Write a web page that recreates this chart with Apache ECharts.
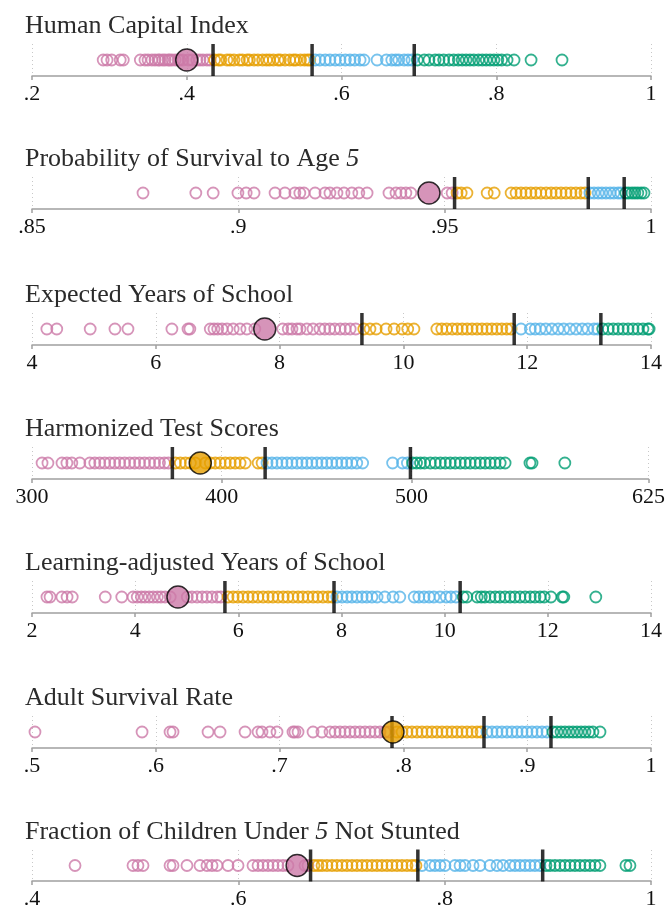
<!DOCTYPE html>
<html><head><meta charset="utf-8">
<script src="https://cdn.jsdelivr.net/npm/echarts@6/dist/echarts.min.js"></script>
<style>html,body{margin:0;padding:0;background:#fff}#c{width:668px;height:910px}</style>
</head><body><div id="c"></div>
<script>
// ---------- DATA ----------
const panelTitles = [
  'Human Capital Index',
  'Probability of Survival to Age {i|5}',
  'Expected Years of School',
  'Harmonized Test Scores',
  'Learning-adjusted Years of School',
  'Adult Survival Rate',
  'Fraction of Children Under {i|5} Not Stunted'
];

// 1. Human Capital Index
const hciQ1 = [0.292,0.297,0.303,0.314,0.318,0.340,0.346,0.350,0.355,0.359,0.363,0.365,0.369,0.372,0.376,0.378,0.381,0.385,0.389,0.391,0.395,0.402,0.407,0.413,0.417,0.421,0.426,0.430];
const hciQ2 = [0.436,0.441,0.444,0.452,0.456,0.461,0.468,0.472,0.478,0.481,0.487,0.492,0.498,0.503,0.507,0.512,0.518,0.521,0.527,0.533,0.538,0.541,0.547,0.552,0.556,0.559];
const hciQ3 = [0.566,0.572,0.579,0.585,0.592,0.598,0.605,0.611,0.617,0.624,0.629,0.646,0.658,0.665,0.670,0.674,0.681,0.686,0.691];
const hciQ4 = [0.698,0.707,0.713,0.721,0.726,0.732,0.739,0.745,0.751,0.756,0.761,0.766,0.771,0.777,0.782,0.787,0.792,0.797,0.802,0.807,0.814,0.823,0.845,0.885];
const hciCuts = [0.434,0.562,0.694];
const hciFocus = [0.40];
const hciGroup = 0;
const hciTicks = [0.2,0.4,0.6,0.8,1];
const hciTickLabels = ['.2','.4','.6','.8','1'];

// 2. Probability of Survival to Age 5
const survQ1 = [0.8769,0.8897,0.8939,0.8999,0.9019,0.9038,0.9089,0.9113,0.9137,0.9149,0.9159,0.9186,0.9210,0.9222,0.9239,0.9256,0.9275,0.9292,0.9312,0.9365,0.9382,0.9394,0.9406,0.9418,0.9506,0.9518];
const survQ2 = [0.9530,0.9540,0.9554,0.9603,0.9620,0.9661,0.9673,0.9685,0.9697,0.9709,0.9721,0.9733,0.9746,0.9758,0.9770,0.9782,0.9794,0.9806,0.9818,0.9830,0.9840];
const survQ3 = [0.9852,0.9862,0.9872,0.9881,0.9891,0.9901,0.9910,0.9920,0.9927];
const survQ4 = [0.9939,0.9946,0.9954,0.9961,0.9968,0.9976,0.9983];
const survCuts = [0.9524,0.9848,0.9935];
const survFocus = [0.9462];
const survGroup = 0;
const survTicks = [0.85,0.9,0.95,1];
const survTickLabels = ['.85','.9','.95','1'];

// 3. Expected Years of School
const eysQ1 = [4.24,4.40,4.94,5.34,5.55,6.26,6.52,6.55,6.88,6.94,7.00,7.07,7.15,7.25,7.36,7.47,7.60,8.05,8.14,8.20,8.28,8.33,8.44,8.54,8.65,8.73,8.81,8.89,8.98,9.06,9.14,9.23];
const eysQ2 = [9.36,9.46,9.56,9.72,9.85,9.98,10.07,10.17,10.54,10.62,10.70,10.79,10.87,10.95,11.03,11.11,11.19,11.27,11.35,11.43,11.51,11.59,11.67,11.74];
const eysQ3 = [11.90,12.05,12.13,12.21,12.30,12.40,12.50,12.59,12.69,12.79,12.89,12.98,13.08,13.14];
const eysQ4 = [13.22,13.31,13.39,13.47,13.55,13.63,13.71,13.79,13.87,13.95,13.97];
const eysCuts = [9.33,11.79,13.19];
const eysFocus = [7.76];
const eysGroup = 0;
const eysTicks = [4,6,8,10,12,14];
const eysTickLabels = ['4','6','8','10','12','14'];

// 4. Harmonized Test Scores
const htsQ1 = [305.3,308.4,315.8,318.4,321.0,325.2,330.5,333.1,335.7,338.3,341.0,343.6,346.2,348.8,351.5,354.1,356.7,359.3,362.0,364.6,367.2,369.8,371.9];
const htsQ2 = [375.6,378.2,380.9,383.5,386.1,391.4,394.0,396.6,399.2,401.9,404.5,407.1,409.7,412.4,419.2,421.3];
const htsQ3 = [423.9,426.5,429.1,431.8,434.4,437.0,439.7,442.3,444.9,447.5,450.2,452.8,455.4,458.0,460.7,463.3,465.9,468.5,471.2,474.3,490.1,495.3,497.9];
const htsQ4 = [500.6,502.7,504.8,506.9,510.0,512.6,515.3,517.9,520.5,523.1,525.8,528.4,531.0,533.7,536.3,538.9,541.5,544.1,546.8,549.4,562.5,563.6,580.9];
const htsCuts = [374.0,422.9,499.5];
const htsFocus = [388.7];
const htsGroup = 1;
const htsTicks = [300,400,500,625];
const htsTickLabels = ['300','400','500','625'];

// 5. Learning-adjusted Years of School
const laysQ1 = [2.29,2.35,2.58,2.68,2.78,3.42,3.74,3.96,4.04,4.12,4.19,4.27,4.35,4.43,4.50,4.58,4.68,5.01,5.10,5.20,5.30,5.39,5.49,5.59,5.66];
const laysQ2 = [5.80,5.90,5.99,6.09,6.19,6.28,6.38,6.48,6.58,6.67,6.77,6.87,6.96,7.06,7.16,7.25,7.35,7.45,7.54,7.64,7.74,7.82];
const laysQ3 = [7.91,8.01,8.11,8.20,8.30,8.40,8.49,8.59,8.69,8.84,9.00,9.13,9.41,9.50,9.60,9.70,9.79,9.91,10.03,10.12,10.22];
const laysQ4 = [10.36,10.43,10.63,10.71,10.78,10.88,10.98,11.07,11.17,11.27,11.36,11.46,11.56,11.66,11.75,11.85,11.93,12.06,12.28,12.31,12.93];
const laysCuts = [5.74,7.855,10.30];
const laysFocus = [4.83];
const laysGroup = 0;
const laysTicks = [2,4,6,8,10,12,14];
const laysTickLabels = ['2','4','6','8','10','12','14'];

// 6. Adult Survival Rate
const asrQ1 = [0.5024,0.5889,0.6115,0.6139,0.6422,0.6519,0.6721,0.6826,0.6858,0.6922,0.6979,0.7108,0.7124,0.7149,0.7270,0.7342,0.7407,0.7448,0.7488,0.7528,0.7569,0.7609,0.7649,0.7690,0.7730,0.7771,0.7811,0.7851,0.7884];
const asrQ2 = [0.7948,0.7989,0.8029,0.8069,0.8110,0.8150,0.8191,0.8231,0.8271,0.8312,0.8352,0.8393,0.8433,0.8473,0.8514,0.8554,0.8595,0.8627];
const asrQ3 = [0.8675,0.8716,0.8756,0.8796,0.8837,0.8877,0.8918,0.8958,0.8998,0.9039,0.9079,0.9120,0.9160];
const asrQ4 = [0.9208,0.9241,0.9273,0.9305,0.9338,0.9370,0.9402,0.9435,0.9467,0.9499,0.9531,0.9588];
const asrCuts = [0.7908,0.8651,0.9192];
const asrFocus = [0.7916];
const asrGroup = 1;
const asrTicks = [0.5,0.6,0.7,0.8,0.9,1];
const asrTickLabels = ['.5','.6','.7','.8','.9','1'];

// 7. Fraction of Children Under 5 Not Stunted
const nsQ1 = [0.4417,0.4979,0.5027,0.5076,0.5338,0.5367,0.5502,0.5628,0.5696,0.5745,0.5793,0.5900,0.5997,0.6142,0.6191,0.6239,0.6288,0.6336,0.6384,0.6433,0.6481,0.6646,0.6675];
const nsQ2 = [0.6733,0.6772,0.6811,0.6859,0.6908,0.6956,0.7005,0.7053,0.7102,0.7150,0.7199,0.7247,0.7296,0.7344,0.7392,0.7441,0.7489,0.7538,0.7586,0.7635,0.7683,0.7722];
const nsQ3 = [0.7780,0.7858,0.7906,0.7955,0.8003,0.8100,0.8149,0.8197,0.8275,0.8342,0.8439,0.8507,0.8565,0.8633,0.8682,0.8730,0.8779,0.8827,0.8875,0.8924];
const nsQ4 = [0.8982,0.9021,0.9069,0.9118,0.9166,0.9215,0.9263,0.9311,0.9360,0.9408,0.9457,0.9505,0.9757,0.9796];
const nsCuts = [0.670,0.774,0.895];
const nsFocus = [0.657];
const nsGroup = 0;
const nsTicks = [0.4,0.6,0.8,1];
const nsTickLabels = ['.4','.6','.8','1'];

// ---------- BUILD ----------
const panels = [
  {q:[hciQ1,hciQ2,hciQ3,hciQ4], cuts:hciCuts, focus:hciFocus, g:hciGroup, ticks:hciTicks, labels:hciTickLabels},
  {q:[survQ1,survQ2,survQ3,survQ4], cuts:survCuts, focus:survFocus, g:survGroup, ticks:survTicks, labels:survTickLabels},
  {q:[eysQ1,eysQ2,eysQ3,eysQ4], cuts:eysCuts, focus:eysFocus, g:eysGroup, ticks:eysTicks, labels:eysTickLabels},
  {q:[htsQ1,htsQ2,htsQ3,htsQ4], cuts:htsCuts, focus:htsFocus, g:htsGroup, ticks:htsTicks, labels:htsTickLabels},
  {q:[laysQ1,laysQ2,laysQ3,laysQ4], cuts:laysCuts, focus:laysFocus, g:laysGroup, ticks:laysTicks, labels:laysTickLabels},
  {q:[asrQ1,asrQ2,asrQ3,asrQ4], cuts:asrCuts, focus:asrFocus, g:asrGroup, ticks:asrTicks, labels:asrTickLabels},
  {q:[nsQ1,nsQ2,nsQ3,nsQ4], cuts:nsCuts, focus:nsFocus, g:nsGroup, ticks:nsTicks, labels:nsTickLabels}
];
panels.forEach((p,i)=>{ p.title = panelTitles[i]; });

const colors = ['#CC79A7','#E69F00','#56B4E9','#009E73'];
const axisYs = [76, 209, 345, 479, 613, 748, 882];
const gridH = 32;
const FONT = "'Liberation Serif', 'Times New Roman', serif";

const grid = [], xAxis = [], yAxis = [], series = [], title = [];
panels.forEach((p, i) => {
  const ay = axisYs[i];
  grid.push({left: 32, width: 619, top: ay - gridH, height: gridH});
  title.push({
    text: p.title, left: 25, top: ay - 63, padding: 0,
    textStyle: {fontFamily: FONT, fontSize: 26, fontWeight: 'normal', color: '#2b2b2b',
      rich: {i: {fontFamily: FONT, fontSize: 26, fontStyle: 'italic', color: '#2b2b2b'}}}
  });
  const tk = p.ticks, lb = p.labels;
  xAxis.push({
    type: 'value', gridIndex: i, min: tk[0], max: tk[tk.length-1],
    axisLine: {show: true, lineStyle: {color: '#a0a0a0', width: 1.5}},
    axisTick: {show: true, length: 4, customValues: tk, lineStyle: {color: '#a0a0a0', width: 1.5}},
    axisLabel: {customValues: tk, margin: 7, fontFamily: FONT, fontSize: 22, color: '#111',
      showMinLabel: true, showMaxLabel: true,
      formatter: v => { const k = tk.findIndex(t => Math.abs(t - v) < 1e-9); return k >= 0 ? lb[k] : ''; }},
    splitLine: {show: true, lineStyle: {color: '#c8c8c8', type: [1, 3], width: 1}}
  });
  yAxis.push({type: 'value', gridIndex: i, min: 0, max: 1, show: false});
  p.q.forEach((arr, k) => {
    series.push({
      type: 'scatter', xAxisIndex: i, yAxisIndex: i, silent: true, z: 2,
      symbol: 'circle', symbolSize: 11,
      itemStyle: {color: 'rgba(0,0,0,0)', borderColor: colors[k], borderWidth: 1.8},
      data: arr.map(v => [v, 0.5])
    });
  });
  series.push({
    type: 'scatter', xAxisIndex: i, yAxisIndex: i, silent: true, z: 3,
    symbol: 'rect', symbolSize: [3.5, 32],
    itemStyle: {color: '#000'},
    data: p.cuts.map(v => [v, 0.5])
  });
  series.push({
    type: 'scatter', xAxisIndex: i, yAxisIndex: i, silent: true, z: 4,
    symbol: 'circle', symbolSize: 22,
    itemStyle: {color: colors[p.g], borderColor: '#000', borderWidth: 1.5},
    data: p.focus.map(v => [v, 0.5])
  });
});

const chart = echarts.init(document.getElementById('c'), null, {renderer: 'canvas'});
chart.setOption({animation: false, backgroundColor: '#fff', title, grid, xAxis, yAxis, series});
</script>
</body></html>
